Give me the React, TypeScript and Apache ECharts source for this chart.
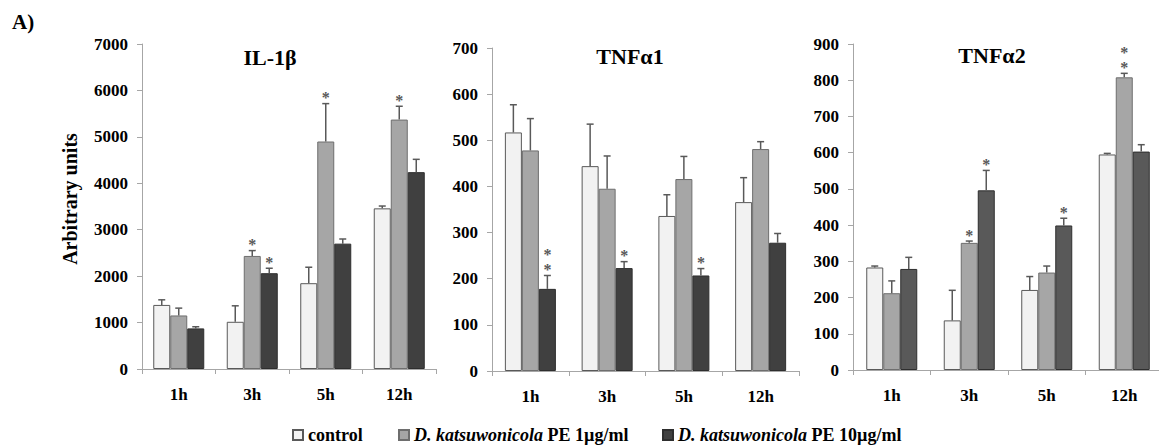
import React, { useEffect, useRef } from "react";
import * as echarts from "echarts";

const categories = ["1h", "3h", "5h", "12h"];
const seriesNames = ["control", "D. katsuwonicola PE 1µg/ml", "D. katsuwonicola PE 10µg/ml"];

// IL-1β
const il1bControl = [1380, 1017, 1848, 3460];
const il1bControlSd = [110, 344, 344, 50];
const il1bPe1 = [1153, 2435, 4900, 5372];
const il1bPe1Sd = [158, 115, 816, 287];
const il1bPe10 = [874, 2063, 2700, 4240];
const il1bPe10Sd = [36, 107, 100, 276];
const il1bStars = [[0, 0, 0, 0], [0, 1, 1, 1], [0, 1, 0, 0]];

// TNFα1
const tnf1Control = [517, 444, 336, 366];
const tnf1ControlSd = [60, 91, 46, 53];
const tnf1Pe1 = [478, 395, 416, 481];
const tnf1Pe1Sd = [69, 71, 49, 16];
const tnf1Pe10 = [178, 223, 207, 278];
const tnf1Pe10Sd = [29, 14, 15, 20];
const tnf1Stars = [[0, 0, 0, 0], [0, 0, 0, 0], [2, 1, 1, 0]];

// TNFα2
const tnf2Control = [283, 137, 221, 595];
const tnf2ControlSd = [4, 83, 37, 3];
const tnf2Pe1 = [212, 351, 269, 808];
const tnf2Pe1Sd = [34, 5, 18, 11];
const tnf2Pe10 = [279, 496, 399, 603];
const tnf2Pe10Sd = [32, 55, 20, 19];
const tnf2Stars = [[0, 0, 0, 0], [0, 1, 0, 2], [0, 1, 1, 0]];

const panelTitles = ["IL-1β", "TNFα1", "TNFα2"];
const yMax = [7000, 700, 900];
const yInterval = [1000, 100, 100];

const FONT = "'Liberation Serif', 'Times New Roman', serif";
const BAR_W = 17;

const panels = [
  { title: panelTitles[0], vals: [il1bControl, il1bPe1, il1bPe10], sds: [il1bControlSd, il1bPe1Sd, il1bPe10Sd], stars: il1bStars, max: yMax[0], interval: yInterval[0], dark: "#404040" },
  { title: panelTitles[1], vals: [tnf1Control, tnf1Pe1, tnf1Pe10], sds: [tnf1ControlSd, tnf1Pe1Sd, tnf1Pe10Sd], stars: tnf1Stars, max: yMax[1], interval: yInterval[1], dark: "#404040" },
  { title: panelTitles[2], vals: [tnf2Control, tnf2Pe1, tnf2Pe10], sds: [tnf2ControlSd, tnf2Pe1Sd, tnf2Pe10Sd], stars: tnf2Stars, max: yMax[2], interval: yInterval[2], dark: "#595959" },
];

const grids = [
  { left: 142, top: 44, width: 294, height: 325 },
  { left: 492, top: 48, width: 307, height: 323 },
  { left: 853, top: 44, width: 310, height: 326 },
];
const titlePos = [
  [270, 57],
  [630, 56],
  [992, 55],
];

function errRender(params: any, api: any) {
  const cat = api.value(0);
  const g = api.value(1);
  const v = api.value(2);
  const sd = api.value(3);
  const stars = api.value(4);
  const base = api.coord([cat, v]);
  const top = api.coord([cat, v + sd]);
  const x = base[0] + (g - 1) * BAR_W;
  const st = { stroke: "#595959", lineWidth: 1.5 };
  const children: any[] = [
    { type: "line", shape: { x1: x, y1: base[1], x2: x, y2: top[1] }, style: st },
    { type: "line", shape: { x1: x - 3.5, y1: top[1], x2: x + 3.5, y2: top[1] }, style: st },
  ];
  for (let k = 0; k < stars; k++) {
    children.push({
      type: "text",
      x: x,
      y: top[1] - 6 - k * 15,
      style: {
        text: "*",
        fill: "#595959",
        font: `bold 16px ${FONT}`,
        textAlign: "center",
        textVerticalAlign: "middle",
        lineHeight: 13,
      },
    });
  }
  return { type: "group", children };
}

export default function App() {
  const ref = useRef<HTMLDivElement>(null);
  useEffect(() => {
    if (!ref.current) return;
    const chart = echarts.init(ref.current, null, { renderer: "svg" });
    const fills = ["#f2f2f2", "#a6a6a6"];
    const borders = ["#595959", "#6e6e6e", "#2e2e2e"];
    const series: any[] = [];
    panels.forEach((p, pi) => {
      p.vals.forEach((vals, si) => {
        series.push({
          type: "bar",
          name: seriesNames[si],
          xAxisIndex: pi,
          yAxisIndex: pi,
          data: vals,
          barWidth: BAR_W,
          barGap: "0%",
          itemStyle: {
            color: si < 2 ? fills[si] : p.dark,
            borderColor: borders[si],
            borderWidth: 1,
          },
          z: 2,
        });
      });
      const errData: any[] = [];
      p.vals.forEach((vals, si) => {
        vals.forEach((v, ci) => {
          errData.push([ci, si, v, p.sds[si][ci], p.stars[si][ci]]);
        });
      });
      series.push({
        type: "custom",
        xAxisIndex: pi,
        yAxisIndex: pi,
        renderItem: errRender,
        encode: { x: 0, y: 2 },
        data: errData,
        z: 5,
        silent: true,
      });
    });

    const axisColor = "#a6a6a6";
    const labelStyle = { fontFamily: FONT, fontWeight: "bold", fontSize: 17, color: "#000" };
    const legendLefts = [287, 393, 657];
    const legendText = [
      "{b|control}",
      "{i|D. katsuwonicola} {b|PE 1µg/ml}",
      "{i|D. katsuwonicola} {b|PE 10µg/ml}",
    ];

    chart.setOption({
      animation: false,
      backgroundColor: "#ffffff",
      textStyle: { fontFamily: FONT },
      grid: grids.map((g) => ({ ...g, containLabel: false })),
      xAxis: panels.map((_, i) => ({
        type: "category",
        gridIndex: i,
        data: categories,
        axisLine: { show: true, lineStyle: { color: axisColor, width: 1 } },
        axisTick: { show: true, length: 5, lineStyle: { color: axisColor } },
        axisLabel: { ...labelStyle, margin: 17 },
      })),
      yAxis: panels.map((p, i) => ({
        type: "value",
        gridIndex: i,
        min: 0,
        max: p.max,
        interval: p.interval,
        axisLine: { show: true, lineStyle: { color: axisColor, width: 1 } },
        axisTick: { show: true, length: 5, lineStyle: { color: axisColor } },
        splitLine: { show: false },
        axisLabel: { ...labelStyle, margin: 14, formatter: (v: number) => String(v) },
      })),
      legend: seriesNames.map((n, i) => ({
        data: [{ name: n, icon: "rect" }],
        left: legendLefts[i],
        top: 421,
        itemWidth: 10,
        itemHeight: 10,
        itemGap: 5,
        selectedMode: false,
        formatter: () => legendText[i],
        textStyle: {
          fontFamily: FONT,
          fontSize: 18,
          fontWeight: "bold",
          color: "#000",
          rich: {
            b: { fontFamily: FONT, fontSize: 18, fontWeight: "bold", color: "#000" },
            i: { fontFamily: FONT, fontSize: 18, fontWeight: "bold", fontStyle: "italic", color: "#000" },
          },
        },
      })),
      graphic: [
        {
          type: "text",
          x: 12,
          y: 22,
          style: { text: "A)", font: `bold 21px ${FONT}`, fill: "#000", textVerticalAlign: "middle" },
        },
        {
          type: "text",
          x: 70,
          y: 199,
          rotation: Math.PI / 2,
          style: {
            text: "Arbitrary units",
            font: `bold 20px ${FONT}`,
            fill: "#000",
            textAlign: "center",
            textVerticalAlign: "middle",
          },
        },
        ...panels.map((p, i) => ({
          type: "text",
          x: titlePos[i][0],
          y: titlePos[i][1],
          style: {
            text: p.title,
            font: `bold 22px ${FONT}`,
            fill: "#000",
            textAlign: "center",
            textVerticalAlign: "middle",
          },
        })),
      ],
      series,
    });
    return () => chart.dispose();
  }, []);

  return (
    <div style={{ position: "absolute", left: 0, top: 0, width: 1159, height: 446, overflow: "hidden" }}>
      <div ref={ref} style={{ width: 1175, height: 446 }} />
    </div>
  );
}
